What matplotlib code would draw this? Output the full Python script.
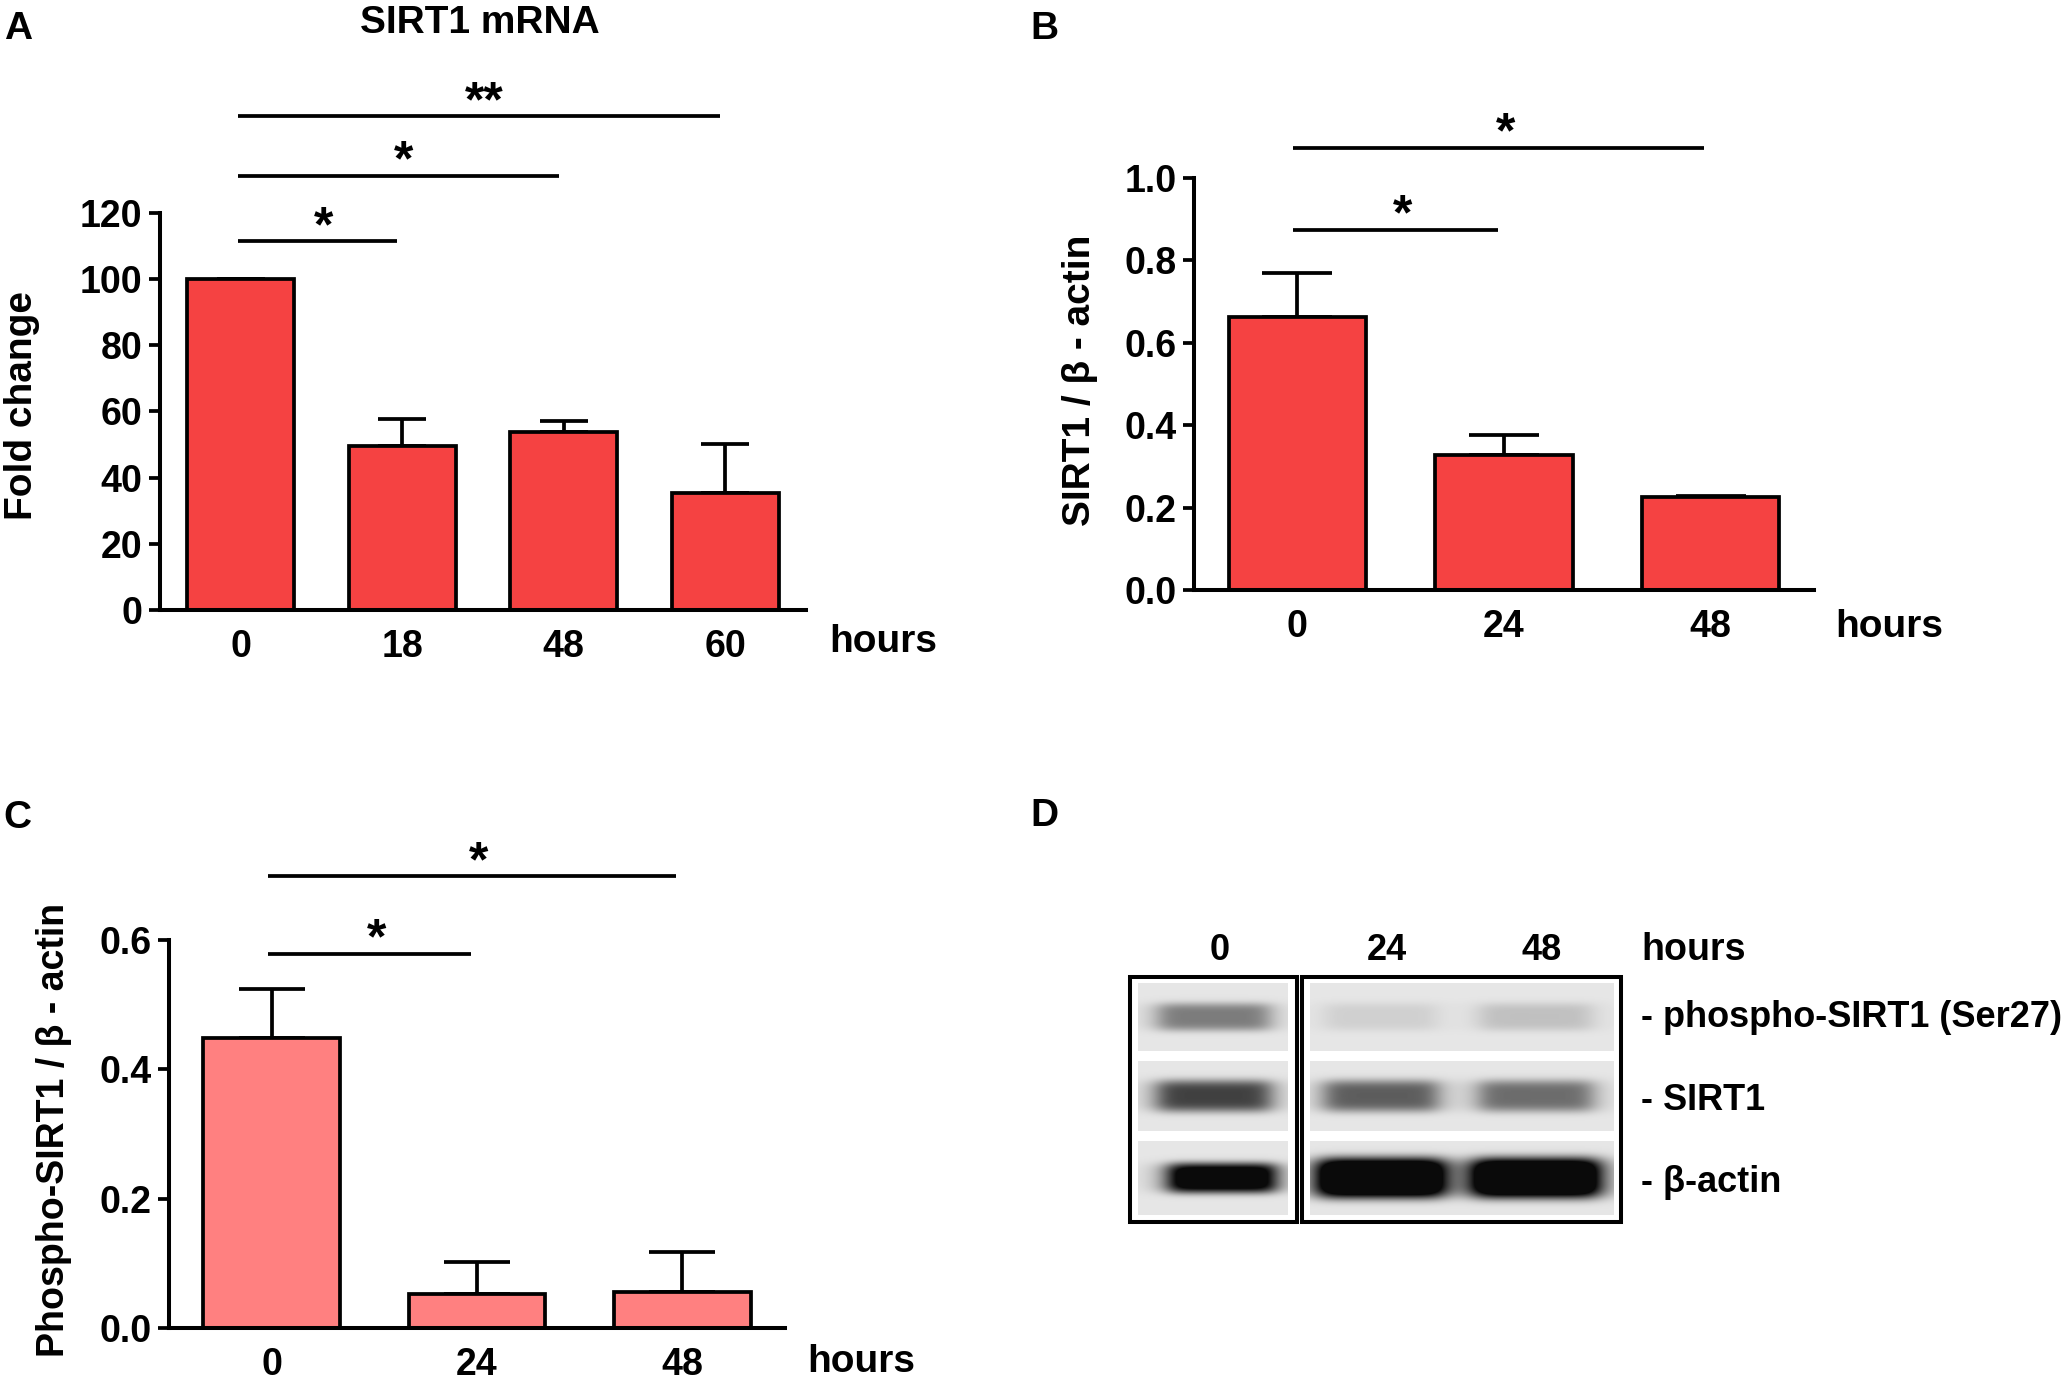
import numpy as np
import matplotlib
matplotlib.use("Agg")
import matplotlib.pyplot as plt
from matplotlib.patches import Rectangle

plt.rcParams['font.family'] = ['Liberation Sans', 'DejaVu Sans']
plt.rcParams['font.weight'] = 'bold'

W, H = 2061, 1380

# ------------------------------------------
# data
# ------------------------------------------
# A: SIRT1 mRNA
hours_a = ['0', '18', '48', '60']
mrna_fold = [100, 49.7, 53.8, 35.4]
mrna_err = [0, 8.0, 3.2, 14.8]
mrna_pairs = [(0, 1), (0, 2), (0, 3)]
mrna_stars = ['*', '*', '**']

# B: SIRT1 / beta-actin
hours_b = ['0', '24', '48']
sirt1_ratio = [0.663, 0.328, 0.226]
sirt1_err = [0.107, 0.049, 0.003]
sirt1_pairs = [(0, 1), (0, 2)]
sirt1_stars = ['*', '*']

# C: phospho-SIRT1 / beta-actin
hours_c = ['0', '24', '48']
phospho_ratio = [0.449, 0.052, 0.055]
phospho_err = [0.075, 0.050, 0.063]
phospho_pairs = [(0, 1), (0, 2)]
phospho_stars = ['*', '*']

# D: western blot, band darkness per lane (0, 24, 48 h)
blot_lanes = ['0', '24', '48']
blot_rows = ['- phospho-SIRT1 (Ser27)', '- SIRT1', '- β-actin']
band_phospho = [0.48, 0.10, 0.17]
band_sirt1 = [0.75, 0.62, 0.55]
band_actin = [1.25, 1.6, 1.6]

RED = '#F54242'
PINK = '#FF8080'
LW = 2.7


def fx(x):
    return x / W


def fy(y):
    return 1 - y / H


def bar_panel(box, labels, vals, errs, color, ymax, yticks, fmt, capsize,
              pairs, stars, sig_y, xlabel_x, xlabel_base):
    left, top, right, bottom = box
    ax = fig.add_axes([fx(left), fy(bottom), (right - left) / W, (bottom - top) / H])
    x = np.arange(len(vals))
    ax.bar(x, vals, width=0.665, color=color, edgecolor='black', linewidth=LW, zorder=2)
    lower = np.zeros(len(errs))
    ax.errorbar(x, vals, yerr=[lower, errs], fmt='none', ecolor='black',
                elinewidth=LW, capsize=capsize, capthick=LW, zorder=1)
    ax.set_xlim(-0.5, len(vals) - 0.5)
    ax.set_ylim(0, ymax)
    ax.set_xticks(x)
    ax.set_xticklabels(labels)
    ax.set_yticks(yticks)
    ax.set_yticklabels([fmt.format(t) for t in yticks])
    for s in ['top', 'right']:
        ax.spines[s].set_visible(False)
    for s in ['left', 'bottom']:
        ax.spines[s].set_linewidth(2.9)
    ax.tick_params(axis='y', length=7.7, width=2.7, pad=5, labelsize=27)
    ax.tick_params(axis='x', length=0, pad=13.5, labelsize=27)
    for (i, j), st, h in zip(pairs, stars, sig_y):
        ax.plot([i - 0.02, j - 0.03], [h, h], color='black', lw=LW,
                clip_on=False, solid_capstyle='butt')
        ax.text((i + j) / 2 + 0.01, h, st, ha='center', va='baseline',
                fontsize=36, clip_on=False)
    fig.text(fx(xlabel_x), fy(xlabel_base), 'hours', ha='left', va='baseline', fontsize=28)
    return ax


fig = plt.figure(figsize=(W / 100, H / 100), dpi=100)

# ------------------------------------------
# A
# ------------------------------------------
bar_panel((160, 213, 806, 610), hours_a, mrna_fold, mrna_err, RED, 120,
          [0, 20, 40, 60, 80, 100, 120], '{:.0f}', 17,
          mrna_pairs, mrna_stars, [111.5, 131.3, 149.3], 829, 652)
fig.text(fx(480), fy(33), 'SIRT1 mRNA', ha='center', va='baseline', fontsize=28)
fig.text(fx(22), fy(406), 'Fold change', rotation=90, ha='center', va='center', fontsize=28)
fig.text(fx(4), fy(39), 'A', ha='left', va='baseline', fontsize=28)

# ------------------------------------------
# B
# ------------------------------------------
bar_panel((1194, 178, 1814, 590), hours_b, sirt1_ratio, sirt1_err, RED, 1.0,
          [0, 0.2, 0.4, 0.6, 0.8, 1.0], '{:.1f}', 25,
          sirt1_pairs, sirt1_stars, [0.875, 1.074], 1835, 637)
fig.text(fx(1080), fy(380), 'SIRT1 / β - actin', rotation=90, ha='center', va='center', fontsize=28)
fig.text(fx(1030), fy(39), 'B', ha='left', va='baseline', fontsize=28)

# ------------------------------------------
# C
# ------------------------------------------
bar_panel((169, 940, 785, 1328), hours_c, phospho_ratio, phospho_err, PINK, 0.6,
          [0, 0.2, 0.4, 0.6], '{:.1f}', 24,
          phospho_pairs, phospho_stars, [0.579, 0.699], 807, 1372)
fig.text(fx(54), fy(1130), 'Phospho-SIRT1 / β - actin', rotation=90, ha='center', va='center', fontsize=27)
fig.text(fx(3), fy(828), 'C', ha='left', va='baseline', fontsize=28)

# ------------------------------------------
# D: western blot
# ------------------------------------------
fig.text(fx(1030), fy(826), 'D', ha='left', va='baseline', fontsize=28)
axd = fig.add_axes([fx(1100), 0, (W - 1100) / W, fy(880)])
axd.set_xlim(1100, W)
axd.set_ylim(H, 880)
axd.axis('off')

lane_x = [1214, 1381, 1536]
row_span = [(983, 1051), (1061, 1131), (1141, 1215)]
band_hw = [57, 58, 64]
band_hh = [14, 16, 20]
box_span = [(1138, 1288, [0]), (1310, 1614, [1, 2])]
bands = [band_phospho, band_sirt1, band_actin]

for r, (y0, y1) in enumerate(row_span):
    cy = (y0 + y1) / 2
    for (x0, x1, lanes) in box_span:
        xs = np.arange(x0, x1) + 0.5
        ys = np.arange(y0, y1) + 0.5
        dark = np.zeros((len(ys), len(xs)))
        for k in lanes:
            hw = band_hw[r] * (0.85 if (r == 2 and k == 0) else 1.0)
            hh = band_hh[r] * (0.75 if (r == 2 and k == 0) else 1.0)
            px = 1 / (1 + np.abs((xs - lane_x[k] - (8 if r == 2 and k == 0 else 0)) / hw) ** 8)
            py = np.exp(-np.abs((ys - cy) / hh) ** 4)
            dark += bands[r][k] * np.outer(py, px)
        img = 0.90 - 0.86 * np.clip(dark, 0, 1)
        axd.imshow(img, cmap='gray', vmin=0, vmax=1, extent=(x0, x1, y1, y0),
                   aspect='auto', interpolation='bilinear')

for (bx0, bx1) in [(1130, 1297), (1302, 1621)]:
    axd.add_patch(Rectangle((bx0, 977), bx1 - bx0, 245, fill=False,
                            edgecolor='black', linewidth=2.9))

for k, lab in enumerate(blot_lanes):
    axd.text(lane_x[k] + 6, 960, lab, ha='center', va='baseline', fontsize=26)
axd.text(1641, 960, 'hours', ha='left', va='baseline', fontsize=27)
for lab, base in zip(blot_rows, [1027, 1110, 1192]):
    axd.text(1641, base, lab, ha='left', va='baseline', fontsize=26)

fig.savefig('out.png', dpi=100)
